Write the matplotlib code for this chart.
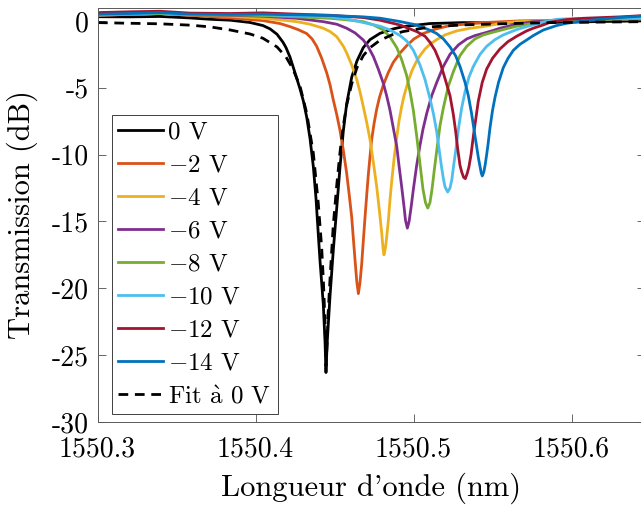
import matplotlib
matplotlib.use("Agg")
import matplotlib.pyplot as plt

plt.rcParams['font.family'] = 'serif'
plt.rcParams['font.serif'] = ['cmr10']
plt.rcParams['mathtext.fontset'] = 'cm'
plt.rcParams['axes.unicode_minus'] = False

# ---------------- data (wavelength in nm, transmission in dB) ----------------
wl_0V = [1550.3003, 1550.3206, 1550.3396, 1550.3585, 1550.3712, 1550.3839, 1550.3965,
         1550.4047, 1550.4092, 1550.4136, 1550.4174, 1550.4193, 1550.4218, 1550.4237,
         1550.4261, 1550.4282, 1550.4303, 1550.4324, 1550.4345, 1550.4366, 1550.4383,
         1550.4397, 1550.4408, 1550.4429, 1550.4440, 1550.4446, 1550.4453, 1550.4459,
         1550.4472, 1550.4492, 1550.4514, 1550.4535, 1550.4556, 1550.4577, 1550.4609,
         1550.4642, 1550.4682, 1550.4725, 1550.4788, 1550.4872, 1550.4934, 1550.5104,
         1550.5313, 1550.5547, 1550.5864, 1550.6181, 1550.6465]
tr_0V = [0.31, 0.30, 0.33, 0.22, 0.12, 0.05, -0.12,
         -0.35, -0.60, -1.00, -1.60, -2.00, -2.70, -3.40,
         -4.30, -5.10, -6.00, -7.20, -8.80, -10.90, -13.30,
         -15.90, -17.90, -21.20, -24.00, -26.30, -24.20, -23.00,
         -20.50, -17.20, -14.00, -10.90, -8.20, -6.20, -4.20,
         -3.00, -2.00, -1.40, -0.93, -0.60, -0.43, -0.20,
         -0.13, -0.15, -0.12, -0.05, 0.00]

wl_m2V = [1550.3003, 1550.3206, 1550.3396, 1550.3585, 1550.3839, 1550.4047, 1550.4155,
          1550.4218, 1550.4269, 1550.4324, 1550.4358, 1550.4387, 1550.4419, 1550.4451,
          1550.4472, 1550.4492, 1550.4514, 1550.4535, 1550.4556, 1550.4577, 1550.4593,
          1550.4609, 1550.4620, 1550.4630, 1550.4641, 1550.4651, 1550.4661, 1550.4672,
          1550.4682, 1550.4693, 1550.4704, 1550.4714, 1550.4725, 1550.4735, 1550.4750,
          1550.4767, 1550.4785, 1550.4809, 1550.4839, 1550.4872, 1550.4915, 1550.4957,
          1550.5003, 1550.5060, 1550.5142, 1550.5231, 1550.5440, 1550.5674, 1550.5927,
          1550.6181, 1550.6465]
tr_m2V = [0.42, 0.48, 0.55, 0.42, 0.22, 0.02, -0.20,
          -0.43, -0.65, -0.95, -1.35, -1.90, -2.80, -3.90,
          -4.80, -5.90, -7.00, -8.20, -9.70, -11.40, -13.00,
          -14.70, -16.40, -17.90, -19.50, -20.40, -19.60, -18.20,
          -16.50, -14.70, -13.00, -11.50, -10.10, -8.90, -7.70,
          -6.60, -5.70, -4.80, -3.90, -3.10, -2.40, -1.85,
          -1.35, -0.95, -0.60, -0.35, -0.13, 0.00, 0.05,
          0.10, 0.15]

wl_m4V = [1550.3003, 1550.3206, 1550.3396, 1550.3585, 1550.3839, 1550.4047, 1550.4155,
          1550.4261, 1550.4345, 1550.4429, 1550.4472, 1550.4514, 1550.4556, 1550.4577,
          1550.4609, 1550.4641, 1550.4661, 1550.4682, 1550.4704, 1550.4725, 1550.4746,
          1550.4767, 1550.4785, 1550.4799, 1550.4807, 1550.4813, 1550.4822, 1550.4830,
          1550.4841, 1550.4851, 1550.4862, 1550.4877, 1550.4894, 1550.4908, 1550.4925,
          1550.4940, 1550.4967, 1550.4991, 1550.5020, 1550.5041, 1550.5073, 1550.5104,
          1550.5147, 1550.5199, 1550.5273, 1550.5358, 1550.5440, 1550.5547, 1550.5655,
          1550.5927, 1550.6181, 1550.6465]
tr_m4V = [0.45, 0.50, 0.55, 0.45, 0.35, 0.19, 0.08,
          -0.06, -0.25, -0.55, -0.80, -1.18, -1.90, -2.40,
          -3.30, -4.40, -5.30, -6.40, -7.60, -8.90, -10.60,
          -12.40, -14.30, -15.90, -17.00, -17.50, -17.00, -16.20,
          -14.90, -13.40, -12.00, -10.30, -8.70, -7.50, -6.40,
          -5.60, -4.50, -3.70, -3.00, -2.60, -2.10, -1.75,
          -1.40, -1.05, -0.75, -0.55, -0.43, -0.20, -0.06,
          0.05, 0.12, 0.18]

wl_m6V = [1550.3003, 1550.3206, 1550.3396, 1550.3585, 1550.3839, 1550.4047, 1550.4261,
          1550.4429, 1550.4514, 1550.4577, 1550.4630, 1550.4682, 1550.4714, 1550.4746,
          1550.4777, 1550.4809, 1550.4830, 1550.4851, 1550.4872, 1550.4894, 1550.4908,
          1550.4925, 1550.4940, 1550.4949, 1550.4961, 1550.4972, 1550.4984, 1550.4999,
          1550.5020, 1550.5041, 1550.5060, 1550.5084, 1550.5115, 1550.5147, 1550.5189,
          1550.5231, 1550.5284, 1550.5337, 1550.5389, 1550.5442, 1550.5495, 1550.5547,
          1550.5653, 1550.5756, 1550.5990, 1550.6181, 1550.6465]
tr_m6V = [0.40, 0.50, 0.58, 0.45, 0.42, 0.35, 0.19,
          -0.06, -0.25, -0.55, -0.90, -1.43, -1.95, -2.67,
          -3.60, -4.67, -5.60, -6.67, -8.00, -9.40, -10.80,
          -12.40, -13.90, -14.90, -15.50, -15.00, -14.00, -12.60,
          -10.80, -9.30, -8.10, -6.90, -5.60, -4.60, -3.40,
          -2.50, -1.80, -1.35, -1.10, -0.93, -0.75, -0.55,
          -0.25, -0.06, 0.05, 0.10, 0.15]

wl_m8V = [1550.3003, 1550.3206, 1550.3396, 1550.3585, 1550.3839, 1550.4047, 1550.4261,
          1550.4472, 1550.4577, 1550.4682, 1550.4746, 1550.4809, 1550.4851, 1550.4894,
          1550.4925, 1550.4957, 1550.4978, 1550.4999, 1550.5020, 1550.5041, 1550.5060,
          1550.5076, 1550.5090, 1550.5104, 1550.5117, 1550.5132, 1550.5147, 1550.5168,
          1550.5189, 1550.5220, 1550.5252, 1550.5294, 1550.5337, 1550.5389, 1550.5442,
          1550.5503, 1550.5568, 1550.5653, 1550.5758, 1550.5864, 1550.6181, 1550.6465]
tr_m8V = [0.42, 0.50, 0.55, 0.45, 0.45, 0.40, 0.30,
          0.19, 0.08, -0.06, -0.30, -0.68, -1.20, -2.00,
          -2.90, -4.10, -5.30, -6.70, -8.60, -10.70, -12.60,
          -13.60, -14.00, -13.60, -12.60, -11.10, -9.70, -7.80,
          -6.50, -4.90, -3.80, -2.60, -1.90, -1.35, -1.05,
          -0.85, -0.65, -0.40, -0.18, 0.00, 0.10, 0.15]

wl_m10V = [1550.3003, 1550.3206, 1550.3396, 1550.3585, 1550.3839, 1550.4047, 1550.4261,
           1550.4472, 1550.4577, 1550.4704, 1550.4788, 1550.4851, 1550.4915, 1550.4957,
           1550.4999, 1550.5041, 1550.5073, 1550.5104, 1550.5127, 1550.5147, 1550.5163,
           1550.5177, 1550.5189, 1550.5199, 1550.5216, 1550.5231, 1550.5242, 1550.5252,
           1550.5267, 1550.5284, 1550.5305, 1550.5326, 1550.5351, 1550.5379, 1550.5421,
           1550.5463, 1550.5516, 1550.5568, 1550.5653, 1550.5716, 1550.5822, 1550.5906,
           1550.6073, 1550.6307, 1550.6465]
tr_m10V = [0.45, 0.52, 0.60, 0.48, 0.50, 0.45, 0.38,
           0.30, 0.15, -0.18, -0.40, -0.68, -1.10, -1.50,
           -2.20, -3.30, -4.40, -5.80, -7.00, -8.30, -9.70,
           -10.90, -11.80, -12.40, -12.80, -12.50, -11.90, -11.00,
           -9.70, -8.10, -6.50, -5.30, -4.20, -3.40, -2.50,
           -1.90, -1.40, -1.05, -0.65, -0.43, -0.10, 0.12,
           0.19, 0.20, 0.22]

wl_m12V = [1550.3003, 1550.3206, 1550.3396, 1550.3585, 1550.3839, 1550.4047, 1550.4261,
           1550.4472, 1550.4682, 1550.4788, 1550.4915, 1550.5020, 1550.5073, 1550.5104,
           1550.5136, 1550.5168, 1550.5199, 1550.5231, 1550.5252, 1550.5266, 1550.5280,
           1550.5294, 1550.5305, 1550.5317, 1550.5328, 1550.5340, 1550.5351, 1550.5364,
           1550.5379, 1550.5410, 1550.5435, 1550.5463, 1550.5500, 1550.5547, 1550.5598,
           1550.5653, 1550.5716, 1550.5758, 1550.5822, 1550.5864, 1550.5970, 1550.6073,
           1550.6307, 1550.6465]
tr_m12V = [0.62, 0.68, 0.72, 0.58, 0.55, 0.60, 0.50,
           0.42, 0.25, 0.05, -0.31, -0.80, -1.15, -1.60,
           -2.20, -3.10, -4.30, -5.60, -7.00, -8.20, -9.60,
           -10.80, -11.30, -11.70, -11.80, -11.40, -10.90, -10.00,
           -8.60, -6.00, -4.60, -3.60, -2.80, -2.10, -1.55,
           -1.15, -0.75, -0.55, -0.30, -0.10, 0.10, 0.19,
           0.30, 0.40]

wl_m14V = [1550.3003, 1550.3206, 1550.3396, 1550.3585, 1550.3839, 1550.4047, 1550.4261,
           1550.4472, 1550.4682, 1550.4788, 1550.4915, 1550.5020, 1550.5104, 1550.5147,
           1550.5189, 1550.5231, 1550.5266, 1550.5294, 1550.5326, 1550.5347, 1550.5367,
           1550.5389, 1550.5410, 1550.5421, 1550.5429, 1550.5435, 1550.5445, 1550.5453,
           1550.5463, 1550.5472, 1550.5484, 1550.5500, 1550.5516, 1550.5538, 1550.5568,
           1550.5598, 1550.5632, 1550.5674, 1550.5716, 1550.5758, 1550.5822, 1550.5906,
           1550.5970, 1550.6073, 1550.6181, 1550.6307, 1550.6465]
tr_m14V = [0.50, 0.55, 0.62, 0.50, 0.48, 0.50, 0.45,
           0.40, 0.30, 0.20, -0.05, -0.31, -0.70, -0.95,
           -1.35, -1.95, -2.60, -3.40, -4.60, -5.60, -6.90,
           -8.60, -10.20, -10.90, -11.40, -11.60, -11.30, -10.80,
           -10.00, -9.20, -8.00, -6.70, -5.70, -4.60, -3.50,
           -2.80, -2.20, -1.75, -1.43, -1.10, -0.68, -0.35,
           -0.18, 0.00, 0.12, 0.25, 0.38]

wl_fit = [1550.3003, 1550.3206, 1550.3396, 1550.3585, 1550.3712, 1550.3839, 1550.3965,
          1550.4047, 1550.4136, 1550.4193, 1550.4237, 1550.4282, 1550.4324, 1550.4366,
          1550.4397, 1550.4419, 1550.4429, 1550.4440, 1550.4446, 1550.4453, 1550.4459,
          1550.4472, 1550.4492, 1550.4514, 1550.4535, 1550.4556, 1550.4577, 1550.4609,
          1550.4642, 1550.4682, 1550.4725, 1550.4788, 1550.4872, 1550.4934, 1550.5104,
          1550.5313, 1550.5547, 1550.5864, 1550.6181, 1550.6465]
tr_fit = [-0.13, -0.18, -0.22, -0.32, -0.45, -0.68, -0.98,
          -1.30, -1.95, -2.70, -3.60, -4.90, -6.90, -9.90,
          -13.60, -17.00, -19.30, -22.50, -25.80, -24.20, -22.00,
          -19.20, -15.30, -12.30, -9.80, -7.80, -6.30, -4.70,
          -3.50, -2.60, -2.00, -1.45, -1.00, -0.80, -0.45,
          -0.30, -0.22, -0.13, -0.09, -0.06]

labels = ['0 V', r'$-$2 V', r'$-$4 V', r'$-$6 V', r'$-$8 V',
          r'$-$10 V', r'$-$12 V', r'$-$14 V']
colors = ['#000000', '#D95319', '#EDB120', '#7E2F8E', '#77AC30',
          '#4DBEEE', '#A2142F', '#0072BD']
fit_label = r'Fit $\grave{\mathrm{a}}$ 0 V'

xticks = [1550.3, 1550.4, 1550.5, 1550.6]
yticks = [-30, -25, -20, -15, -10, -5, 0]

# ---------------- figure ----------------
fig = plt.figure(figsize=(6.41, 5.05), dpi=100)
ax = fig.add_axes([97.5 / 641, 83 / 505, 547.5 / 641, 414.5 / 505])

series = [(wl_0V, tr_0V), (wl_m2V, tr_m2V), (wl_m4V, tr_m4V), (wl_m6V, tr_m6V),
          (wl_m8V, tr_m8V), (wl_m10V, tr_m10V), (wl_m12V, tr_m12V), (wl_m14V, tr_m14V)]
for (x, y), lab, c in zip(series, labels, colors):
    ax.plot(x, y, color=c, lw=2.0, label=lab, solid_joinstyle='round')
ax.plot(wl_fit, tr_fit, color='k', lw=2.0, dashes=(3.5, 2.4), label=fit_label)

ax.set_xlim(1550.3, 1550.6465)
ax.set_ylim(-30, 1)
ax.set_xticks(xticks)
ax.set_xticklabels([f'{v:.1f}' for v in xticks])
ax.set_yticks(yticks)
ax.set_yticklabels([str(v) for v in yticks])
ax.tick_params(direction='in', top=True, right=True, length=5.5, width=0.6,
               labelsize=20, color='0.3')
ax.tick_params(axis='x', pad=10.5)
ax.tick_params(axis='y', pad=6)
for s in ax.spines.values():
    s.set_color('0.35')
    s.set_linewidth(0.7)

ax.set_xlabel("Longueur d'onde (nm)", fontsize=22)
ax.set_ylabel('Transmission (dB)', fontsize=22)
ax.xaxis.set_label_coords(0.5, -0.122)
ax.yaxis.set_label_coords(-0.108, 0.5)

leg = ax.legend(loc='upper left', bbox_to_anchor=(0.0265, 0.7407), borderaxespad=0,
                fontsize=18, frameon=True, fancybox=False, framealpha=1,
                handlelength=1.8, handletextpad=0.2, borderpad=0.25, labelspacing=0.42)
leg.get_frame().set_edgecolor('0.25')
leg.get_frame().set_linewidth(0.7)

fig.savefig('out.png', dpi=100)
